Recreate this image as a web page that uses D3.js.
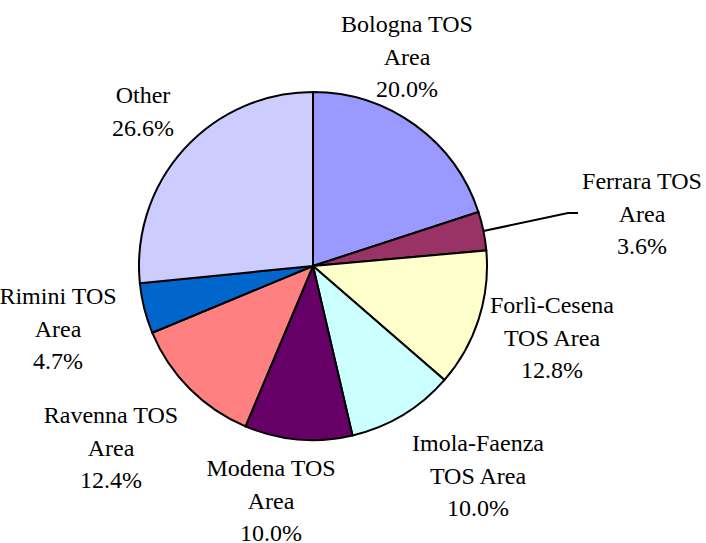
<!DOCTYPE html>
<html><head><meta charset="utf-8"><script src="https://cdn.jsdelivr.net/npm/d3@7"></script></head>
<body style="margin:0">
<script>
var svgWidth = 706;
var svgHeight = 543;

// data
var areas = [
  ["Bologna TOS", "Area"],
  ["Ferrara TOS", "Area"],
  ["Forlì-Cesena", "TOS Area"],
  ["Imola-Faenza", "TOS Area"],
  ["Modena TOS", "Area"],
  ["Ravenna TOS", "Area"],
  ["Rimini TOS", "Area"],
  ["Other"]
];
var shares = [20.0, 3.6, 12.8, 10.0, 10.0, 12.4, 4.7, 26.6];
var colors = ["#9999ff", "#993366", "#ffffcc", "#ccffff", "#660066", "#ff8080", "#0066cc", "#ccccff"];

// label layout (centre x, first line baseline)
var labelPos = [[407, 32], [642, 189], [552, 313], [478, 451], [271, 476], [111, 423], [58, 304], [143, 103]];

var cx = 313, cy = 266, radius = 174;

var svg = d3.select("body").append("svg").attr("width", svgWidth).attr("height", svgHeight);

var pieGroup = svg.append("g")
  .attr("transform", `translate(${cx}, ${cy})`);

var pie = d3.pie().sort(null).value(d => d);
var arc = d3.arc().innerRadius(0).outerRadius(radius);
var slices = pie(shares);

pieGroup.selectAll("path")
  .data(slices)
  .enter()
  .append("path")
  .attr("d", arc)
  .attr("fill", (d, i) => colors[i])
  .attr("stroke", "#000")
  .attr("stroke-width", 2);

// leader line for the thin Ferrara slice
var fer = slices[1];
var mid = (fer.startAngle + fer.endAngle) / 2;
var p0 = [cx + Math.sin(mid) * radius, cy - Math.cos(mid) * radius];
svg.append("polyline")
  .attr("points", `${p0[0]},${p0[1]} 568,213 578,213`)
  .attr("fill", "none")
  .attr("stroke", "#000")
  .attr("stroke-width", 2);

// one entry per label line
var labelLines = [];
areas.forEach(function(a, i) {
  a.concat([d3.format(".1f")(shares[i]) + "%"]).forEach(function(s, j) {
    labelLines.push({ text: s, x: labelPos[i][0], y: labelPos[i][1] + j * 32.5 });
  });
});

svg.selectAll("text").data(labelLines).enter().append("text")
  .attr("x", d => d.x).attr("y", d => d.y)
  .attr("font-size", 24)
  .attr("text-anchor", "middle")
  .style("font-family", d => `"Liberation Serif"`)
  .text(d => d.text);
</script>
</body></html>
